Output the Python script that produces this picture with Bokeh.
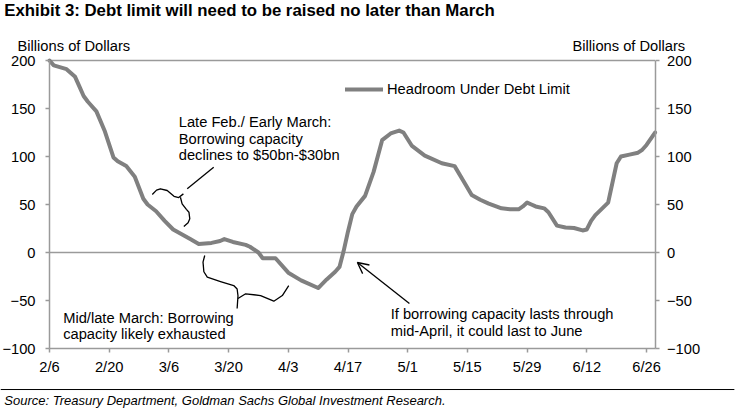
import pandas as pd
from bokeh.plotting import figure
from bokeh.models import (Range1d, LinearAxis, FixedTicker, Label, Arrow,
                          OpenHead, Legend, LegendItem, ColumnDataSource)
from bokeh.embed import file_html
from bokeh.resources import INLINE

# ---------------- data ----------------
start_date = "2017-02-06"
dates = ["2017-02-06", "2017-02-07", "2017-02-10", "2017-02-12", "2017-02-13", "2017-02-14",
         "2017-02-15", "2017-02-17", "2017-02-19", "2017-02-21", "2017-02-22", "2017-02-24",
         "2017-02-26", "2017-02-28", "2017-03-01", "2017-03-03", "2017-03-05", "2017-03-07",
         "2017-03-09", "2017-03-11", "2017-03-13", "2017-03-16", "2017-03-18", "2017-03-19",
         "2017-03-21", "2017-03-24", "2017-03-25", "2017-03-27", "2017-03-28", "2017-03-31",
         "2017-04-03", "2017-04-06", "2017-04-10", "2017-04-12", "2017-04-14", "2017-04-15",
         "2017-04-16", "2017-04-17", "2017-04-18", "2017-04-19", "2017-04-21", "2017-04-23",
         "2017-04-25", "2017-04-27", "2017-04-29", "2017-04-30", "2017-05-02", "2017-05-05",
         "2017-05-09", "2017-05-12", "2017-05-14", "2017-05-16", "2017-05-18", "2017-05-20",
         "2017-05-23", "2017-05-25", "2017-05-27", "2017-05-28", "2017-05-29", "2017-05-30",
         "2017-05-31", "2017-06-02", "2017-06-03", "2017-06-05", "2017-06-07", "2017-06-09",
         "2017-06-11", "2017-06-12", "2017-06-13", "2017-06-14", "2017-06-17", "2017-06-19",
         "2017-06-20", "2017-06-22", "2017-06-24", "2017-06-25", "2017-06-26", "2017-06-28"]
headroom = [200, 195, 191, 183, 173, 163,
            157, 147, 126, 99, 95, 90,
            79, 56, 50, 43, 33, 24,
            19, 14, 9, 10, 12, 14,
            11, 8, 6, 0, -6, -6,
            -21, -29, -37, -28, -20, -15,
            2, 22, 40, 48, 59, 84,
            117, 124, 127, 125, 111, 101,
            93, 90, 75, 60, 55, 51,
            46, 45, 45, 48, 52, 50,
            48, 46, 42, 28, 26, 25.5,
            23, 24, 33, 39, 52, 93,
            100, 102, 104, 107, 112, 125]

tick_days = [0, 14, 28, 42, 56, 70, 84, 98, 112, 126, 140]
tick_labels = ["2/6", "2/20", "3/6", "3/20", "4/3", "4/17", "5/1", "5/15", "5/29", "6/12", "6/26"]
y_ticks = [-100, -50, 0, 50, 100, 150, 200]
y_min, y_max = -100, 200
x_end_day = 142

series_name = "Headroom Under Debt Limit"
title_text = "Exhibit 3: Debt limit will need to be raised no later than March"
unit_text = "Billions of Dollars"
source_text = "Source: Treasury Department, Goldman Sachs Global Investment Research."
note1 = ["Late Feb./ Early March:", "Borrowing capacity", "declines to $50bn-$30bn"]
note2 = ["Mid/late March: Borrowing", "capacity likely exhausted"]
note3 = ["If borrowing capacity lasts through", "mid-April, it could last to June"]

days = list((pd.to_datetime(dates) - pd.Timestamp(start_date)).days)
src = ColumnDataSource(dict(day=days, val=headroom))

FONT = "Liberation Sans"
AX = "#9a9a9a"
LINE = "#808080"
TXT = "14.7px"

# frame covers the whole canvas; axes are drawn at fixed locations
p = figure(width=736, height=409, output_backend="svg", toolbar_location=None,
           x_range=Range1d(-11.49, 161.1), y_range=Range1d(-163.5, 262.5),
           min_border_left=0, min_border_right=0, min_border_top=0, min_border_bottom=0)
p.background_fill_color = "white"
p.border_fill_color = "white"
p.outline_line_color = None
p.xgrid.visible = False
p.ygrid.visible = False

# plot-area frame lines (top at 200, zero line)
p.line([0, x_end_day], [y_max, y_max], line_color=AX, line_width=1.5)
p.line([0, x_end_day], [0, 0], line_color=AX, line_width=1.5)

r = p.line("day", "val", source=src, line_color=LINE, line_width=4,
           line_join="round", line_cap="round")

# axes
xax = p.xaxis[0]
xax.ticker = FixedTicker(ticks=tick_days)
xax.major_label_overrides = {d: t for d, t in zip(tick_days, tick_labels)}
xax.fixed_location = y_min
xax.bounds = (0, x_end_day)
yax = p.yaxis[0]
yax.ticker = FixedTicker(ticks=y_ticks)
yax.fixed_location = 0
yax.bounds = (y_min, y_max)
right = LinearAxis(ticker=FixedTicker(ticks=y_ticks), fixed_location=x_end_day,
                   bounds=(y_min, y_max))
p.add_layout(right, "right")
for ax in [xax, yax, right]:
    ax.axis_line_color = AX
    ax.axis_line_width = 1.5
    ax.major_tick_line_color = AX
    ax.major_tick_line_width = 1.5
    ax.major_tick_out = 4
    ax.major_tick_in = 0
    ax.minor_tick_line_color = None
    ax.major_label_text_font = FONT
    ax.major_label_text_font_size = TXT
    ax.major_label_text_color = "black"
xax.major_label_standoff = 6
yax.major_label_standoff = 10
right.major_label_standoff = 8

# legend
leg = Legend(items=[LegendItem(label=series_name, renderers=[r])], location=(345, 311),
             glyph_width=38, glyph_height=18, label_height=18, label_standoff=4,
             padding=0, margin=0, border_line_color=None, background_fill_alpha=0,
             label_text_font=FONT, label_text_font_size=TXT, label_text_color="black")
p.add_layout(leg, "center")


def lab(x, y, text, size=TXT, style="normal", align="left", baseline="middle"):
    p.add_layout(Label(x=x, y=y, text=text, text_font=FONT, text_font_size=size,
                       text_font_style=style, text_align=align, text_baseline=baseline,
                       text_color="black"))


# title and unit labels
lab(-10.6, 251.6, title_text, size="16.8px", style="bold")
lab(-7.5, 215.3, unit_text)
lab(122.65, 215.3, unit_text)

# annotation texts
for i, t in enumerate(note1):
    lab(30.3, 136.1 - 17.4 * i, t)
for i, t in enumerate(note2):
    lab(3.2, -68.2 - 17.0 * i, t)
for i, t in enumerate(note3):
    lab(80.0, -63.9 - 17.4 * i, t)

# braces
b1x = [24.1, 25.1, 26.0, 27.6, 29.2, 30.3, 31.4]
b1y = [60.4, 65.0, 66.4, 64.6, 58.6, 57.3, 61.1]
b1lx = [30.7, 31.1, 32.1, 32.7, 32.9, 32.5, 31.5]
b1ly = [57.6, 50.7, 45.0, 42.0, 35.1, 31.0, 27.1]
p.line(b1x, b1y, line_color="black", line_width=1.3, line_join="round")
p.line(b1lx, b1ly, line_color="black", line_width=1.3, line_join="round")
p.line([32.3, 38.5], [66.4, 88.9], line_color="black", line_width=1.3)

b2x = [36.4, 36.0, 36.2, 37.0, 40.1, 43.2, 44.0, 44.2, 44.0]
b2y = [-3.1, -10.0, -20.0, -25.7, -30.2, -34.4, -38.0, -45.0, -58.3]
b2rx = [44.2, 46.0, 49.5, 52.6, 54.6, 56.1]
b2ry = [-47.9, -43.0, -44.8, -50.7, -44.8, -34.4]
p.line(b2x, b2y, line_color="black", line_width=1.3, line_join="round")
p.line(b2rx, b2ry, line_color="black", line_width=1.3, line_join="round")

# arrow
p.add_layout(Arrow(end=OpenHead(size=11, line_color="black", line_width=1.3),
                   x_start=84.4, y_start=-53.1, x_end=72.2, y_end=-10.4,
                   line_color="black", line_width=1.3))

# source rule and text
p.line([-11.49, 160.6], [-142.7, -142.7], line_color="black", line_width=1)
lab(-10.6, -154.2, source_text, size="13px", style="italic", baseline="alphabetic")

open("out.html", "w").write(file_html(p, INLINE))
